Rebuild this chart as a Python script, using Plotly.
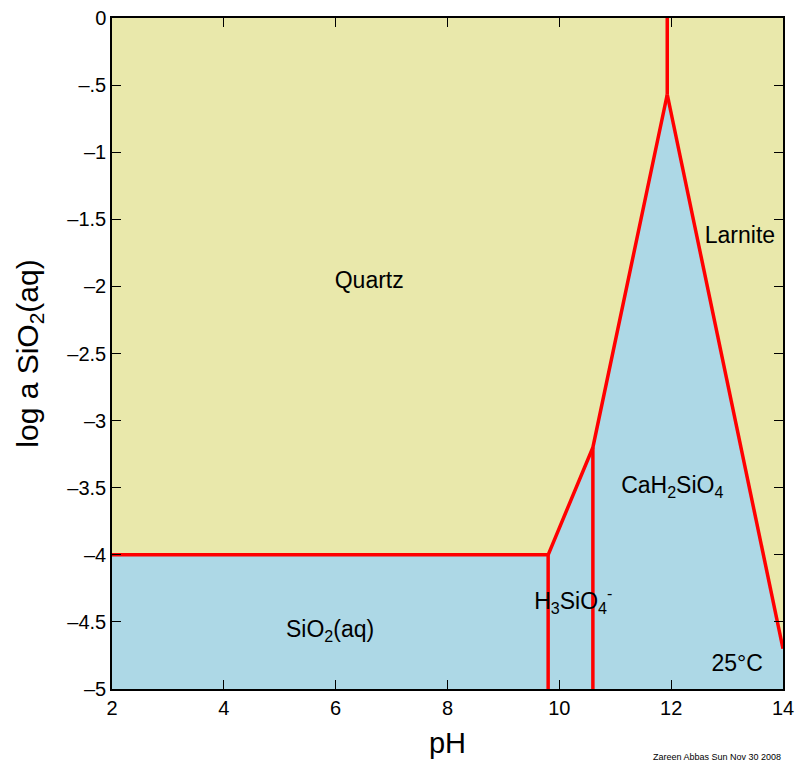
import plotly.graph_objects as go

# Boundary data (pH, log a SiO2(aq))
boundary_sio2_pH = [2, 9.8]
boundary_sio2_logA = [-4, -4]
v1_pH = [9.8, 9.8]
v1_logA = [-4, -5]
v2_pH = [10.6, 10.6]
v2_logA = [-3.2, -5]
quartz_edge_pH = [9.8, 10.6, 11.93]
quartz_edge_logA = [-4, -3.2, -0.57]
v3_pH = [11.93, 11.93]
v3_logA = [-0.57, 0]
larnite_edge_pH = [11.93, 14]
larnite_edge_logA = [-0.57, -4.7]

# aqueous / blue field polygon
blue_pH = [2, 9.8, 10.6, 11.93, 14, 14, 2, 2]
blue_logA = [-4, -4, -3.2, -0.57, -4.7, -5, -5, -4]
# yellow field (whole domain)
yellow_pH = [2, 14, 14, 2, 2]
yellow_logA = [0, 0, -5, -5, 0]

labels_text = ["Quartz", "Larnite", "CaH<sub>2</sub>SiO<sub>4</sub>",
               "H<sub>3</sub>SiO<sub>4</sub><sup>-</sup>", "SiO<sub>2</sub>(aq)", "25°C"]
labels_pH = [6.6, 13.23, 12.02, 10.25, 5.9, 13.18]
labels_logA = [-1.97, -1.63, -3.5, -4.36, -4.57, -4.82]

xticks = [2, 4, 6, 8, 10, 12, 14]
yticks = [0, -0.5, -1, -1.5, -2, -2.5, -3, -3.5, -4, -4.5, -5]
yticktext = ["0", "–.5", "–1", "–1.5", "–2", "–2.5", "–3", "–3.5", "–4", "–4.5", "–5"]

YELLOW = "#E9E8AB"
BLUE = "#ADD8E6"
RED = "#FF0000"
FONT = "Liberation Sans, Arial"

fig = go.Figure()
fig.add_trace(go.Scatter(x=yellow_pH, y=yellow_logA, fill="toself", fillcolor=YELLOW,
                         line=dict(width=0), mode="lines", hoverinfo="skip", showlegend=False))
fig.add_trace(go.Scatter(x=blue_pH, y=blue_logA, fill="toself", fillcolor=BLUE,
                         line=dict(width=0), mode="lines", hoverinfo="skip", showlegend=False))
for xs, ys in [(boundary_sio2_pH, boundary_sio2_logA), (v1_pH, v1_logA), (v2_pH, v2_logA),
               (quartz_edge_pH, quartz_edge_logA), (v3_pH, v3_logA),
               (larnite_edge_pH, larnite_edge_logA)]:
    fig.add_trace(go.Scatter(x=xs, y=ys, mode="lines", line=dict(color=RED, width=3.5),
                             showlegend=False, hoverinfo="skip", cliponaxis=False))

fig.add_trace(go.Scatter(x=labels_pH, y=labels_logA, mode="text", text=labels_text,
                         textfont=dict(family=FONT, size=23, color="black"),
                         showlegend=False, hoverinfo="skip"))

fig.add_annotation(text="Zareen Abbas Sun Nov 30 2008", xref="paper", yref="paper",
                   x=1.0, y=-0.101, xanchor="right", yanchor="middle", showarrow=False,
                   font=dict(family=FONT, size=9, color="black"))

axis_common = dict(showgrid=False, zeroline=False, showline=True, linecolor="black", linewidth=1.5,
                   mirror="ticks", ticks="inside", ticklen=9, tickwidth=1, tickcolor="black",
                   automargin=False,
                   tickfont=dict(family=FONT, size=20, color="black"))

fig.update_xaxes(range=[2, 14], tickvals=xticks,
                 title=dict(text="pH", font=dict(family=FONT, size=29, color="black"), standoff=15),
                 **axis_common)
fig.update_yaxes(range=[-5, 0], tickvals=yticks, ticktext=yticktext,
                 title=dict(text="log a SiO<sub>2</sub>(aq)", font=dict(family=FONT, size=30, color="black"), standoff=20),
                 **axis_common)

fig.update_layout(width=795, height=764, margin=dict(l=112, r=12, t=18, b=75),
                  plot_bgcolor="white", paper_bgcolor="white")

fig.write_html("out.html", config={"displayModeBar": False},
               post_script="document.body.style.margin='0';")
